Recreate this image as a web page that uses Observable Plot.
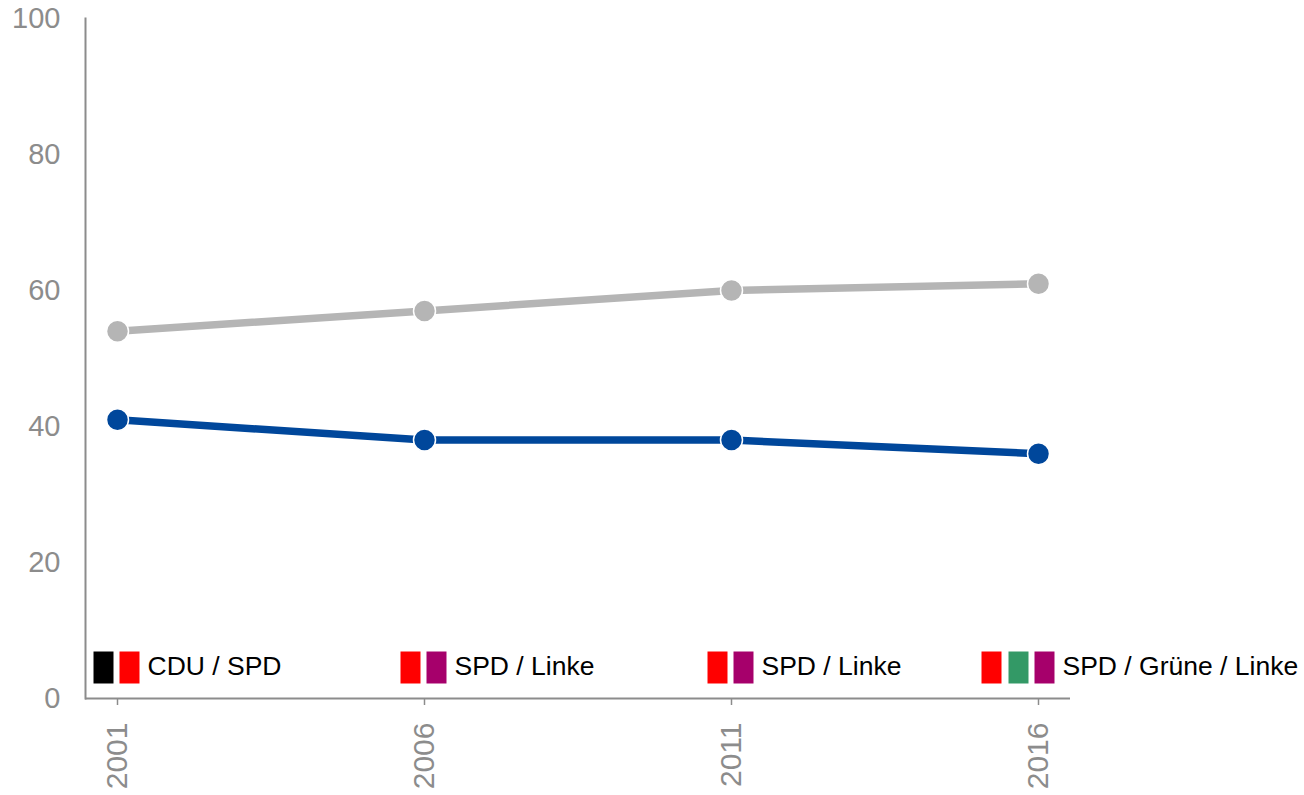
<!DOCTYPE html>
<html>
<head>
<meta charset="utf-8">
<script src="https://cdn.jsdelivr.net/npm/d3@7"></script>
<script src="https://cdn.jsdelivr.net/npm/@observablehq/plot@0.6"></script>
<style>
  html, body { margin: 0; padding: 0; background: #fff; }
  #chart svg { display: block; }
</style>
</head>
<body>
<div id="chart"></div>
<script>
const years = ["2001", "2006", "2011", "2016"];
const seriesNames = ["Reihe 1", "Reihe 2"];
const seriesColors = ["#b5b5b5", "#00479b"];
const grayValues = [54, 57, 60, 61];
const blueValues = [41, 38, 38, 36];
const yTicks = [0, 20, 40, 60, 80, 100];
const coalitions = ["CDU / SPD", "SPD / Linke", "SPD / Linke", "SPD / Grüne / Linke"];
const coalitionColors = [
  ["#000000", "#ff0000"],
  ["#ff0000", "#a6006b"],
  ["#ff0000", "#a6006b"],
  ["#ff0000", "#339966", "#a6006b"]
];

const lineData = [];
years.forEach((y, i) => {
  lineData.push({year: y, value: grayValues[i], series: seriesNames[0]});
  lineData.push({year: y, value: blueValues[i], series: seriesNames[1]});
});

const squares = [];
coalitionColors.forEach((cols, i) => {
  cols.forEach((c, j) => squares.push({year: years[i], color: c, n: cols.length, j}));
});
const labels = coalitions.map((t, i) => ({year: years[i], text: t, n: coalitionColors[i].length}));

const rectSymbol = {draw(ctx) { ctx.rect(-10, -16, 20, 32); }};
const squareOffsets = {2: [-14, 12], 3: [-47, -20, 6]};
const textOffsets = {2: 30, 3: 24};

const squareMarks = [];
for (const n of [2, 3]) {
  squareOffsets[n].forEach((dx, j) => {
    squareMarks.push(Plot.dot(squares.filter(d => d.n === n && d.j === j), {
      x: "year", frameAnchor: "bottom", dy: -31, dx,
      symbol: rectSymbol, fill: "color", stroke: null
    }));
  });
}
const textMarks = [2, 3].map(n => Plot.text(labels.filter(d => d.n === n), {
  x: "year", text: "text", frameAnchor: "bottom", dy: -24, dx: textOffsets[n],
  textAnchor: "start", fontSize: 26.5, fill: "#000"
}));

const axisColor = "#8c8c8c";

const chart = Plot.plot({
  width: 1304,
  height: 795,
  marginTop: 18,
  marginBottom: 97,
  marginLeft: 85,
  marginRight: 234,
  style: {fontFamily: "Liberation Sans, Arial, sans-serif", background: "#fff"},
  x: {type: "point", domain: years, padding: 0.1, label: null},
  y: {domain: [0, 100], label: null},
  color: {domain: seriesNames, range: seriesColors},
  marks: [
    Plot.axisY({ticks: yTicks, tickSize: 0, tickPadding: 25, fontSize: 29, fill: axisColor, label: null}),
    Plot.axisX({tickRotate: -90, tickSize: 7, tickPadding: 17, fontSize: 30, fill: axisColor, stroke: axisColor, strokeWidth: 1.5, label: null}),
    Plot.frame({anchor: "left", stroke: axisColor, strokeWidth: 2}),
    Plot.ruleY([0], {stroke: axisColor, strokeWidth: 2}),
    Plot.line(lineData, {x: "year", y: "value", z: "series", stroke: "series", strokeWidth: 7.5}),
    Plot.dot(lineData, {x: "year", y: "value", fill: "series", r: 11, stroke: "#fff", strokeWidth: 1.5}),
    ...squareMarks,
    ...textMarks
  ]
});
document.getElementById("chart").appendChild(chart);
</script>
</body>
</html>
